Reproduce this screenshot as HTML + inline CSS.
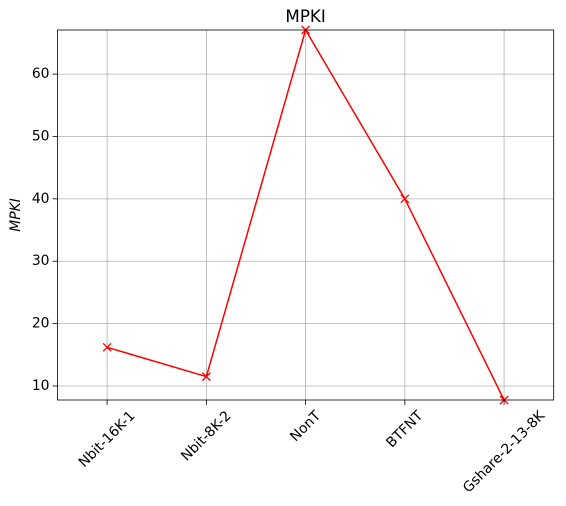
<!DOCTYPE html>
<html><head><meta charset="utf-8"><style>body{margin:0;background:#fff}svg{display:block;font-family:"DejaVu Sans","Liberation Sans",sans-serif}</style></head>
<body>
<svg id="chart" width="566" height="506" viewBox="0 0 566 506"></svg>
<script>
const categories=["Nbit-16K-1","Nbit-8K-2","NonT","BTFNT","Gshare-2-13-8K"];
const mpkiValues=[16.2,11.5,67.07,40.0,7.75];
const yTicks=[10,20,30,40,50,60];
const NS="http://www.w3.org/2000/svg";
const svg=document.getElementById('chart');
const L=57.5,R=553.7,T=30,B=400;
const yMin=Math.min(...mpkiValues),yMax=Math.max(...mpkiValues);
const xs=i=>L+(i+0.5)*(R-L)/categories.length;
const ys=v=>B-(v-yMin)/(yMax-yMin)*(B-T);
function mk(tag,attrs,parent){const e=document.createElementNS(NS,tag);for(const k in attrs)e.setAttribute(k,attrs[k]);(parent||svg).appendChild(e);return e;}
const grid=mk('g',{});


categories.forEach((c,i)=>{const x=xs(i);
 const gl=mk('line',{x1:x,x2:x,y1:T,y2:B,stroke:'#b0b0b0','stroke-width':0.8},grid);
 
 
 const tk=mk('line',{x1:x,x2:x,y1:B,y2:B+4.9,stroke:'#000','stroke-width':0.8});
 
 
 const t=mk('text',{'font-size':13.9,'text-anchor':'middle','dominant-baseline':'central',fill:'#000'});
 t.textContent=c;
 
 
 const w=t.getComputedTextLength();const h=(w+16)*0.7071;
 const cy=B+8+h/2;
 t.setAttribute('x',x);t.setAttribute('y',cy);
 t.setAttribute('transform',`rotate(-45 ${x} ${cy})`);
});
yTicks.forEach(v=>{const y=ys(v);
 const gl=mk('line',{x1:L,x2:R,y1:y,y2:y,stroke:'#b0b0b0','stroke-width':0.8},grid);
 
 
 const tk=mk('line',{x1:L-4.9,x2:L,y1:y,y2:y,stroke:'#000','stroke-width':0.8});
 
 
 const t=mk('text',{x:L-8,y:y,'font-size':13.9,'text-anchor':'end','dominant-baseline':'central',fill:'#000'});
 t.textContent=v;
 
 
});
const pts=mpkiValues.map((v,i)=>xs(i)+','+ys(v)).join(' ');
const line=mk('polyline',{points:pts,fill:'none',stroke:'#ff0000','stroke-width':1.5});


mpkiValues.forEach((v,i)=>{const x=xs(i),y=ys(v),s=4;
 const m=mk('path',{d:`M${x-s},${y-s}L${x+s},${y+s}M${x-s},${y+s}L${x+s},${y-s}`,stroke:'#ff0000','stroke-width':1.3,fill:'none'});
 
 
});
const frame=mk('rect',{x:L,y:T,width:R-L,height:B-T,fill:'none',stroke:'#000','stroke-width':0.8});


const title=mk('text',{x:(L+R)/2,y:T-8,'font-size':16.7,'text-anchor':'middle',fill:'#000'});
title.textContent='MPKI';


const yl=mk('text',{x:20,y:(T+B)/2,'font-size':13.9,'font-style':'italic','text-anchor':'middle',transform:`rotate(-90 20 ${(T+B)/2})`,fill:'#000'});
yl.textContent='MPKI';


</script>
</body></html>
